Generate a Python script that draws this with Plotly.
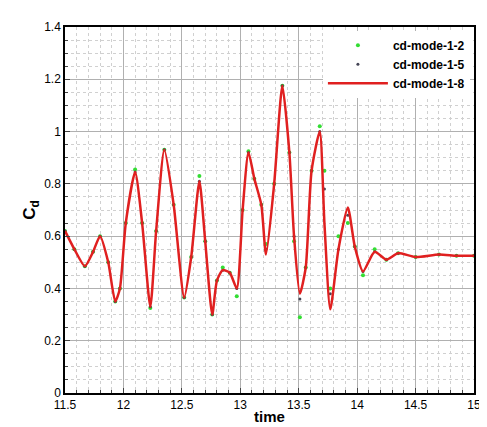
import plotly.graph_objects as go

time = [11.50,11.58,11.67,11.74,11.80,11.87,11.93,11.97,12.02,12.10,12.16,12.23,12.28,12.35,12.43,12.52,12.58,12.65,12.70,12.76,
        12.80,12.85,12.91,12.97,13.02,13.07,13.12,13.18,13.22,13.29,13.36,13.42,13.46,13.51,13.56,13.61,13.68,13.72,13.77,13.84,
        13.92,13.98,14.05,14.15,14.25,14.35,14.50,14.70,14.85,15.00]
cd_8 = [0.62,0.55,0.485,0.54,0.60,0.50,0.35,0.40,0.65,0.845,0.65,0.33,0.62,0.93,0.72,0.365,0.52,0.81,0.58,0.30,
        0.43,0.47,0.46,0.40,0.70,0.92,0.82,0.72,0.53,0.80,1.175,0.92,0.60,0.38,0.48,0.85,1.00,0.65,0.32,0.55,
        0.71,0.56,0.465,0.54,0.51,0.535,0.52,0.53,0.525,0.525]
cd_5 = [0.62,0.55,0.485,0.54,0.60,0.50,0.35,0.40,0.65,0.845,0.65,0.33,0.62,0.93,0.72,0.365,0.52,0.81,0.58,0.30,
        0.43,0.47,0.46,0.40,0.70,0.92,0.82,0.72,0.55,0.80,1.175,0.92,0.60,0.36,0.48,0.85,1.00,0.78,0.38,0.55,
        0.68,0.56,0.465,0.54,0.51,0.535,0.52,0.53,0.525,0.525]
cd_2 = [0.62,0.55,0.485,0.54,0.60,0.50,0.35,0.40,0.65,0.855,0.65,0.325,0.62,0.93,0.72,0.365,0.52,0.83,0.58,0.30,
        0.43,0.48,0.46,0.37,0.70,0.925,0.82,0.72,0.57,0.80,1.175,0.92,0.58,0.29,0.48,0.85,1.02,0.85,0.40,0.60,
        0.65,0.56,0.45,0.55,0.51,0.535,0.52,0.53,0.525,0.525]

FONT = "Liberation Sans, Arial"
fig = go.Figure()
fig.add_trace(go.Scatter(x=time, y=cd_2, mode="markers", name="<b>cd-mode-1-2</b>",
                         marker=dict(color="#33dd33", size=4)))
fig.add_trace(go.Scatter(x=time, y=cd_5, mode="markers", name="<b>cd-mode-1-5</b>",
                         marker=dict(color="#444455", size=3)))
fig.add_trace(go.Scatter(x=time, y=cd_8, mode="lines", name="<b>cd-mode-1-8</b>",
                         line=dict(color="#e02020", width=2.5, shape="spline", smoothing=0.6)))

axis_common = dict(showline=True, linecolor="black", linewidth=1.5, mirror=True, ticks="inside",
                   gridcolor="#b0b0b0", gridwidth=1, zeroline=False,
                   tickfont=dict(family=FONT, size=12, color="black"),
                   minor=dict(showgrid=True, gridcolor="#d0d0d0", griddash="dot", ticks="inside", ticklen=3))
fig.update_xaxes(range=[11.5, 15], dtick=0.5, title=dict(text="<b>time</b>", standoff=0,
                 font=dict(family=FONT, size=15, color="black")), **axis_common)
fig.update_yaxes(range=[0, 1.4], dtick=0.2, title=dict(text="<b>C<sub>d</sub></b>", standoff=4,
                 font=dict(family=FONT, size=17, color="black")), **axis_common)
fig.update_layout(width=487, height=427, plot_bgcolor="white", paper_bgcolor="white",
                  margin=dict(l=57, r=21, t=15, b=37),
                  legend=dict(x=0.99, y=0.99, xanchor="right", yanchor="top", bgcolor="white",
                              font=dict(family=FONT, size=12, color="black"),
                              itemwidth=60, tracegroupgap=0))
fig.write_html("out.html")
